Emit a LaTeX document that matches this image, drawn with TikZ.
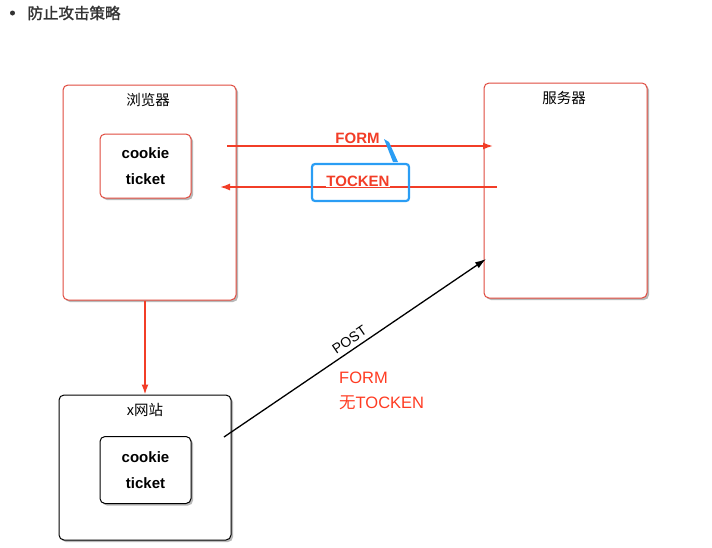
\documentclass[tikz,border=0pt]{standalone}
\usepackage{fontspec}
\setmainfont{Liberation Sans}
\newfontfamily\cjk{Noto Sans CJK SC}
\newfontfamily\cjkbold[FakeBold=1.6]{Noto Sans CJK SC}
\usetikzlibrary{positioning}
\usetikzlibrary{shadows}
\usetikzlibrary{arrows.meta}
\definecolor{boxred}{HTML}{E04A3E}
\definecolor{linered}{HTML}{F23D27}
\definecolor{callblue}{HTML}{2A9DF4}
\definecolor{titlegray}{HTML}{333333}
\definecolor{notered}{HTML}{FF3B22}

\begin{document}
\begin{tikzpicture}[x=1pt,y=-1pt,
  outerbox/.style={draw=boxred, fill=white, line width=1pt, rounded corners=5pt,
    drop shadow={shadow xshift=2pt, shadow yshift=-2pt, opacity=0.55}},
  innerbox/.style={outerbox, align=center,
    font=\bfseries\fontsize{15}{26}\selectfont},
  blackbox/.style={draw=black},
  boxtitle/.style={font=\cjk\fontsize{14.5}{16}\selectfont},
  redlink/.style={draw=linered, line width=1.5pt, -{Latex[length=10pt,width=7pt]}},
  blacklink/.style={draw=black, line width=1.3pt, -{Latex[length=11pt,width=7pt]}},
  arrowlabel/.style={text=linered, fill=white, inner sep=0.5pt,
    font=\bfseries\fontsize{15}{16}\selectfont}]
\useasboundingbox (0,0) rectangle (712,547);

% title
\node[circle, fill=titlegray, inner sep=0pt, minimum size=5pt] (bullet) at (12.5,13) {};
\node[text=titlegray, font=\cjkbold\fontsize{15.5}{17}\selectfont, anchor=west] (title) at (24,13) {防止攻击策略};

% browser and server
\node[outerbox, minimum width=173pt, minimum height=215pt] (browser) at (149.5,192.5) {};
\node[boxtitle] (browsername) at (148,100) {浏览器};
\node[innerbox, minimum width=91pt, minimum height=64pt] (cookieA) at (145.5,166) {cookie\\ticket};
\node[outerbox, minimum width=163pt, minimum height=215pt] (server) at (565.5,190.5) {};
\node[boxtitle] (servername) at (564,98) {服务器};

% x site
\node[outerbox, blackbox, minimum width=172pt, minimum height=145pt] (xsite) at (145,467.5) {};
\node[boxtitle] (xsitename) at (145,410) {x网站};
\node[innerbox, blackbox, minimum width=91pt, minimum height=67pt] (cookieB) at (145.5,470) {cookie\\ticket};

% arrows between browser and server
\coordinate (formstart) at (227,146);
\coordinate (formend) at (493,146);
\coordinate (tockenstart) at (497,187);
\coordinate (tockenend) at (220,187);
\draw[redlink] (formstart) -- (formend);
\draw[redlink] (tockenstart) -- (tockenend);
\node[arrowlabel] (formlabel) at (357.5,138) {FORM};
\node[arrowlabel] (tockenlabel) at (358,181) {TOCKEN};

% blue callout
\node[draw=callblue, line width=2.2pt, rounded corners=3pt, minimum width=97pt, minimum height=37pt] (callout) at (360.5,182.5) {};
\fill[callblue] (384,139) -- (389,142) -- (398,162) -- (393,162) -- cycle;

% browser to x site
\draw[redlink] (xsite.north |- browser.south) -- (xsite.north);

% x site posts to server
\coordinate (poststart) at (224,437);
\coordinate (postend) at (486,259);
\draw[blacklink] (poststart) -- (postend)
  node[pos=0.5, sloped, above=1pt, font=\fontsize{14}{15}\selectfont] (postlabel) {POST};
\node[anchor=north west, align=left, text=notered, font=\fontsize{16.5}{25}\selectfont, inner sep=0pt] (note) at (339,372) {FORM\\{\cjk 无}TOCKEN};
\end{tikzpicture}
\end{document}
